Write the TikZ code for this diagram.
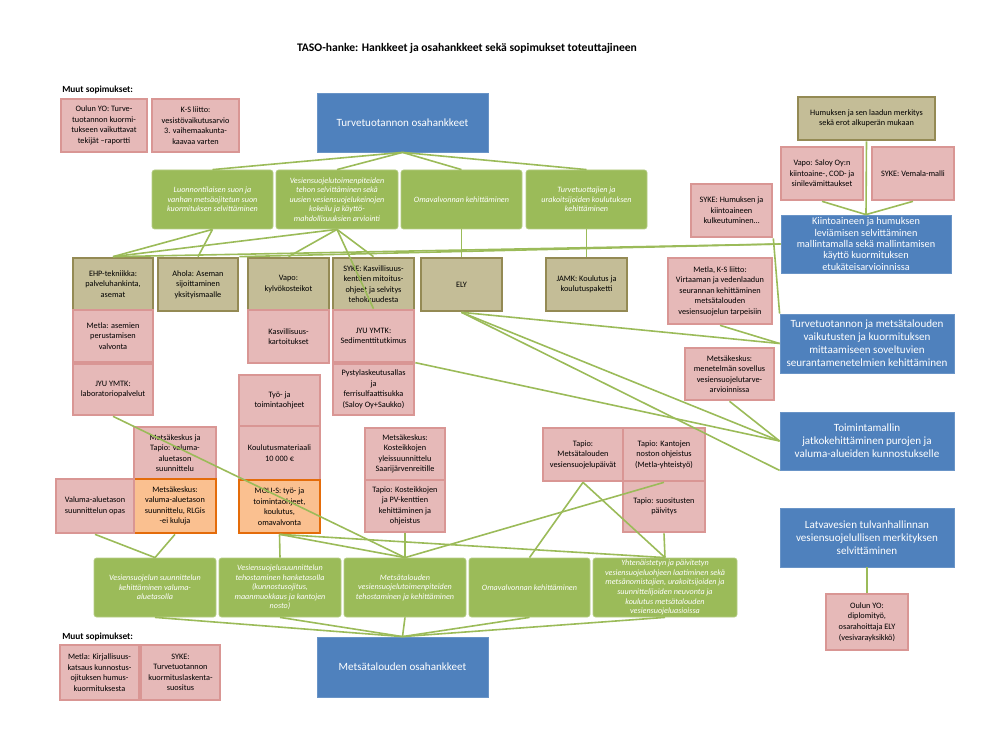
\documentclass[tikz,border=0pt]{standalone}
\usepackage{fontspec}
\setmainfont{Carlito}
\usetikzlibrary{calc}

\definecolor{hblue}{HTML}{4F81BD}
\definecolor{hgreen}{HTML}{9BBB59}
\definecolor{hgreenb}{HTML}{B5CC85}
\definecolor{holive}{HTML}{C4BD97}
\definecolor{holiveb}{HTML}{948A54}
\definecolor{hpink}{HTML}{E6B9B8}
\definecolor{hpinkb}{HTML}{D99694}
\definecolor{horange}{HTML}{FAC090}
\definecolor{horangeb}{HTML}{E46C0A}

\begin{document}
\begin{tikzpicture}[x=0.75pt, y=-0.75pt,
  box/.style n args={4}{minimum width={(#3-#1)*0.75pt}, minimum height={(#4-#2)*0.75pt},
    at={({(#1+#3)/2},{(#2+#4)/2})}},
  base/.style={inner sep=1pt, align=center, font=\fontsize{6.2}{7.9}\selectfont},
  pinkbox/.style={base, fill=hpink, draw=hpinkb, line width=2pt},
  orangebox/.style={base, fill=horange, draw=horangeb, line width=2pt},
  olivebox/.style={base, fill=holive, draw=holiveb, line width=2pt},
  greenbox/.style={base, fill=hgreen, draw=hgreenb, line width=0.6pt, rounded corners=2pt,
    text=white, font=\fontsize{6.1}{7.2}\selectfont\itshape},
  bluebox/.style={base, fill=hblue, draw=hblue!85!white, line width=0.6pt, text=white,
    font=\fontsize{8.3}{9.8}\selectfont},
  muut/.style={anchor=west, inner sep=0pt, font=\bfseries\fontsize{7}{8}\selectfont},
  link/.style={hgreen, line width=1.2pt}]
  \useasboundingbox (0,0) rectangle (1008,756);

  \node[font=\bfseries\fontsize{8.7}{10}\selectfont] (title) at (467,48)
    {TASO-hanke: Hankkeet ja osahankkeet sekä sopimukset toteuttajineen};
  \node[muut] (muutA) at (62,90) {Muut sopimukset:};
  \node[muut] (muutB) at (62,637) {Muut sopimukset:};

  % turvetuotanto
  \node[pinkbox, box={61}{99}{147}{152}] (oulu) {Oulun YO: Turve-\\tuotannon kuormi-\\tukseen vaikuttavat\\tekijät –raportti};
  \node[pinkbox, box={152}{99}{239}{152}] (ksl) {K-S liitto:\\vesistövaikutusarvio\\3. vaihemaakunta-\\kaavaa varten};
  \node[bluebox, box={317}{93}{488}{152}] (blueT) {Turvetuotannon osahankkeet};

  \node[greenbox, box={152}{170}{273}{229}] (g1) {Luonnontilaisen suon ja\\vanhan metsäojitetun suon\\kuormituksen selvittäminen};
  \node[greenbox, box={276}{170}{398}{229}] (g2) {Vesiensuojelutoimenpiteiden\\tehon selvittäminen sekä\\uusien vesiensuojelukeinojen\\kokeilu ja käyttö-\\mahdollisuuksien arviointi};
  \node[greenbox, box={401}{170}{522}{229}] (g3) {Omavalvonnan kehittäminen};
  \node[greenbox, box={526}{170}{647}{229}] (g4) {Turvetuottajien ja\\urakoitsijoiden koulutuksen\\kehittäminen};

  \node[olivebox, box={73}{258}{153}{310}] (ehp) {EHP-tekniikka:\\palveluhankinta,\\asemat};
  \node[olivebox, box={158}{258}{238}{311}] (ahola) {Ahola: Aseman\\sijoittaminen\\yksityismaalle};
  \node[olivebox, box={248}{258}{329}{310}] (vapoK) {Vapo:\\kylvökosteikot};
  \node[olivebox, box={333}{258}{414}{310}] (sykeK) {SYKE: Kasvillisuus-\\kenttien mitoitus-\\ohjeet ja selvitys\\tehokkuudesta};
  \node[olivebox, box={421}{258}{502}{311}] (ely) {ELY};
  \node[olivebox, box={546}{258}{627}{311}] (jamk) {JAMK: Koulutus ja\\koulutuspaketti};

  \node[pinkbox, box={73}{310}{153}{362}] (metlaA) {Metla: asemien\\perustamisen\\valvonta};
  \node[pinkbox, box={73}{364}{153}{415}] (jyuL) {JYU YMTK:\\laboratoriopalvelut};
  \node[pinkbox, box={248}{310}{329}{363}] (kasvi) {Kasvillisuus-\\kartoitukset};
  \node[pinkbox, box={333}{310}{414}{362}] (jyuS) {JYU YMTK:\\Sedimenttitutkimus};
  \node[pinkbox, box={333}{364}{414}{415}] (pysty) {Pystylaskeutusallas\\ja\\ferrisulfaattisukka\\(Saloy Oy+Saukko)};

  % mallinnus ja seuranta
  \node[olivebox, box={798}{97}{935}{140}] (humus) {Humuksen ja sen laadun merkitys\\sekä erot alkuperän mukaan};
  \node[pinkbox, box={781}{147}{863}{200}] (vapoS) {Vapo: Saloy Oy:n\\kiintoaine-, COD- ja\\sinilevämittaukset};
  \node[pinkbox, box={872}{147}{954}{200}] (vemala) {SYKE: Vemala-malli};
  \node[pinkbox, box={691}{184}{772}{237}] (sykeH) {SYKE: Humuksen ja\\kiintoaineen\\kulkeutuminen…};
  \node[bluebox, box={781}{215}{951}{273}, font=\fontsize{7.7}{8.5}\selectfont] (kiinto) {Kiintoaineen ja humuksen\\leviämisen selvittäminen\\mallintamalla sekä mallintamisen\\käyttö kuormituksen\\etukäteisarvioinnissa};
  \node[pinkbox, box={668}{258}{772}{324}] (metlaV) {Metla, K-S liitto:\\Virtaaman ja vedenlaadun\\seurannan kehittäminen\\metsätalouden\\vesiensuojelun tarpeisiin};
  \node[bluebox, box={780}{314}{954}{373}] (blue2) {Turvetuotannon ja metsätalouden\\vaikutusten ja kuormituksen\\mittaamiseen soveltuvien\\seurantamenetelmien kehittäminen};
  \node[pinkbox, box={685}{348}{774}{400}] (mkM) {Metsäkeskus:\\menetelmän sovellus\\vesiensuojelutarve-\\arvioinnissa};
  \node[bluebox, box={780}{412}{954}{470}] (blue3) {Toimintamallin\\jatkokehittäminen purojen ja\\valuma-alueiden kunnostukselle};
  \node[bluebox, box={780}{508}{954}{567}] (blue4) {Latvavesien tulvanhallinnan\\vesiensuojelullisen merkityksen\\selvittäminen};
  \node[pinkbox, box={826}{594}{908}{650}] (ouluD) {Oulun YO:\\diplomityö,\\osarahoittaja ELY\\(vesivarayksikkö)};

  % metsatalous
  \node[pinkbox, box={239}{375}{320}{426}] (tyo) {Työ- ja\\toimintaohjeet};
  \node[pinkbox, box={239}{426}{320}{480}] (koul) {Koulutusmateriaali\\10 000 €};
  \node[orangebox, box={239}{480}{320}{533}] (moli) {MOLI-S: työ- ja\\toimintaohjeet,\\koulutus,\\omavalvonta};
  \node[pinkbox, box={134}{427}{216}{479}] (mkT) {Metsäkeskus ja\\Tapio: valuma-\\aluetason\\suunnittelu};
  \node[orangebox, box={134}{479}{216}{533}] (mkV) {Metsäkeskus:\\valuma-aluetason\\suunnittelu, RLGis\\-ei kuluja};
  \node[pinkbox, box={56}{479}{134}{533}] (valopas) {Valuma-aluetason\\suunnittelun opas};
  \node[pinkbox, box={365}{428}{445}{480}] (mkK) {Metsäkeskus:\\Kosteikkojen\\yleissuunnittelu\\Saarijärvenreitille};
  \node[pinkbox, box={365}{480}{445}{532}] (tapK) {Tapio: Kosteikkojen\\ja PV-kenttien\\kehittäminen ja\\ohjeistus};
  \node[pinkbox, box={543}{428}{623}{481}] (tapM) {Tapio:\\Metsätalouden\\vesiensuojelupäivät};
  \node[pinkbox, box={623}{428}{705}{481}] (tapKa) {Tapio: Kantojen\\noston ohjeistus\\(Metla-yhteistyö)};
  \node[pinkbox, box={623}{481}{705}{532}] (tapS) {Tapio: suositusten\\päivitys};

  \node[greenbox, box={94}{558}{216}{617}] (b1) {Vesiensuojelun suunnittelun\\kehittäminen valuma-\\aluetasolla};
  \node[greenbox, box={219}{558}{341}{617}] (b2) {Vesiensuojelusuunnittelun\\tehostaminen hanketasolla\\(kunnostusojitus,\\maanmuokkaus ja kantojen\\nosto)};
  \node[greenbox, box={344}{558}{466}{617}] (b3) {Metsätalouden\\vesiensuojelutoimenpiteiden\\tehostaminen ja kehittäminen};
  \node[greenbox, box={469}{558}{590}{617}] (b4) {Omavalvonnan kehittäminen};
  \node[greenbox, box={593}{558}{737}{617}] (b5) {Yhtenäistetyn ja päivitetyn\\vesiensuojeluohjeen laatiminen sekä\\metsänomistajien, urakoitsijoiden ja\\suunnittelijoiden neuvonta ja\\koulutus metsätalouden\\vesiensuojeluasioissa};
  \node[bluebox, box={317}{637}{488}{697}] (blueM) {Metsätalouden osahankkeet};

  \node[pinkbox, box={60}{645}{139}{700}] (metlaK) {Metla: Kirjallisuus-\\katsaus kunnostus-\\ojituksen humus-\\kuormituksesta};
  \node[pinkbox, box={141}{645}{220}{700}] (sykeT) {SYKE:\\Turvetuotannon\\kuormituslaskenta-\\suositus};

  % yhteydet
  \foreach \a/\b in {blueT.south/g1.north, blueT.south/g2.north, blueT.south/g3.north,
    blueT.south/g4.north, g1.south/ehp.north, g1.south/ahola.north, g2.south/ehp.north,
    g2.south/vapoK.north, g2.south/sykeK.north, g2.south/jyuS.north, g3.south/ely.north,
    g4.south/jamk.north, ehp.north/kiinto.west, ahola.north east/kiinto.west,
    humus.south/kiinto.north, vapoS.south/kiinto.north, vemala.south/kiinto.north,
    sykeH.south east/blue2.north west, metlaV.south/blue2.west, ely.south/blue2.west,
    ely.south/blue3.west, mkM.south/blue3.west, ely.south/blue3.south west,
    pysty.north east/blue3.west,
    jyuL.south/b3.north, moli.south/b2.north, moli.south/b3.north, moli.south/b5.north,
    valopas.south/b1.north, mkV.south/b1.north, tapK.south/b3.north, tapKa.south/b3.north,
    tapM.south/b4.north, tapM.south/b5.north, tapS.south/b5.north,
    b1.south/blueM.north, b2.south/blueM.north, b3.south/blueM.north,
    b4.south/blueM.north, b5.south/blueM.north, blue4.south/ouluD.north}
    \draw[link] (\a) -- (\b);
\end{tikzpicture}
\end{document}
